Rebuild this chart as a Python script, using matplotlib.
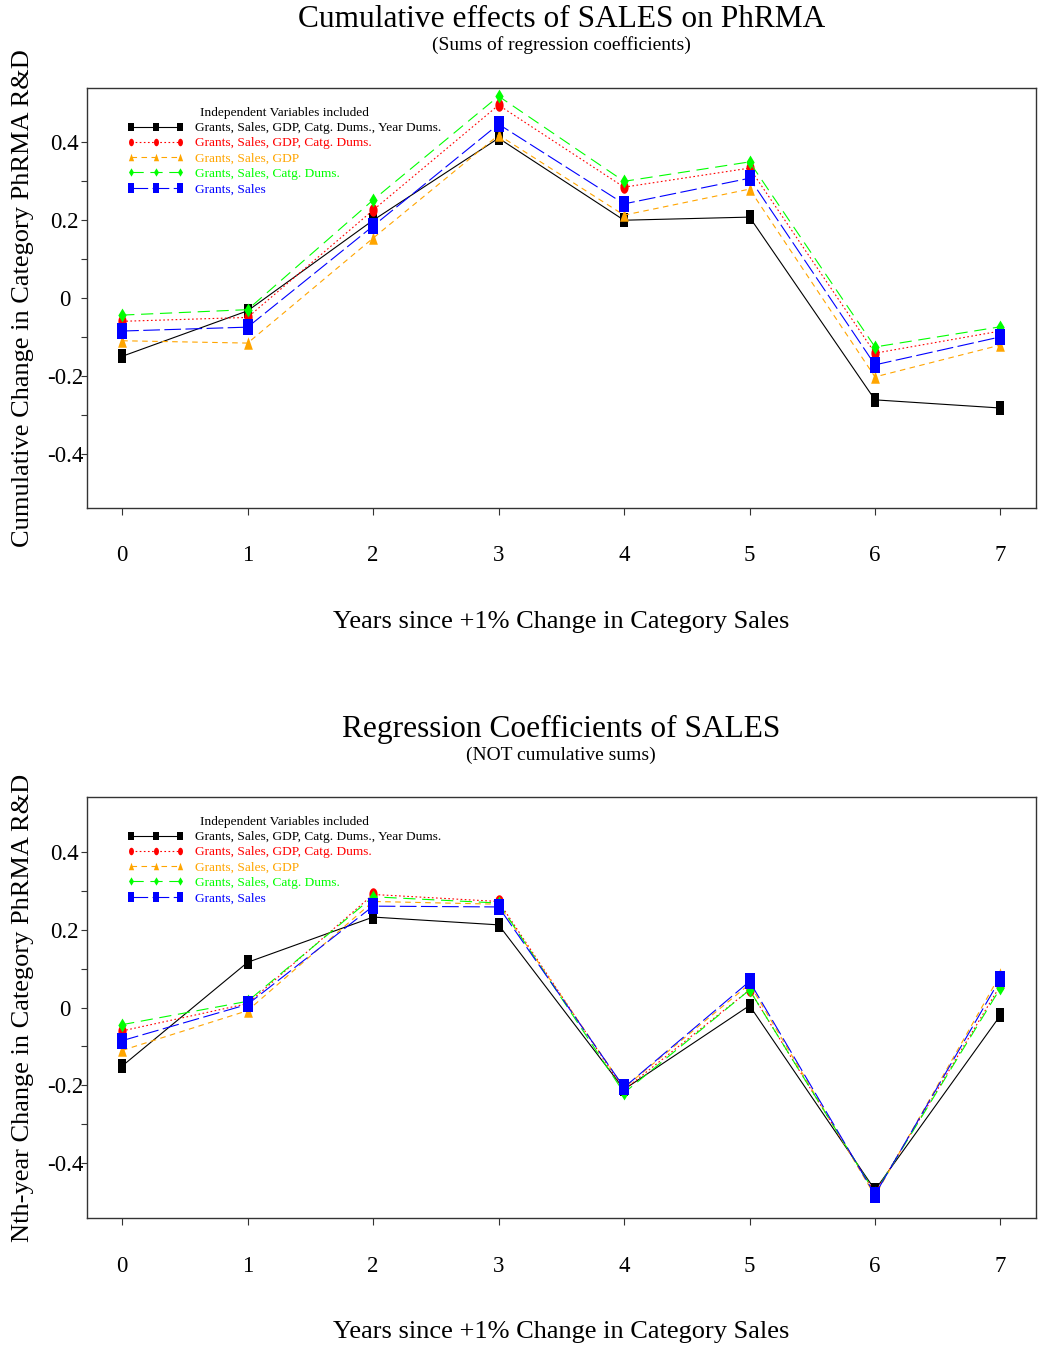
import numpy as np
import matplotlib
matplotlib.use("Agg")
import matplotlib.pyplot as plt

plt.rcParams["font.family"] = ["Liberation Serif", "DejaVu Serif"]

YEARS = [0, 1, 2, 3, 4, 5, 6, 7]

LABELS = [
    "Grants, Sales, GDP, Catg. Dums., Year Dums.",
    "Grants, Sales, GDP, Catg. Dums.",
    "Grants, Sales, GDP",
    "Grants, Sales, Catg. Dums.",
    "Grants, Sales",
]

# cumulative sums (top panel)
CUM_ALL = [-0.150, -0.033, 0.200, 0.411, 0.200, 0.208, -0.262, -0.283]
CUM_NO_YEAR = [-0.060, -0.050, 0.226, 0.496, 0.285, 0.334, -0.142, -0.085]
CUM_GDP = [-0.110, -0.116, 0.154, 0.419, 0.213, 0.280, -0.203, -0.121]
CUM_CATG = [-0.044, -0.030, 0.252, 0.519, 0.300, 0.350, -0.126, -0.074]
CUM_SALES = [-0.085, -0.075, 0.185, 0.447, 0.242, 0.308, -0.172, -0.100]

# yearly coefficients (bottom panel)
COEF_ALL = [-0.150, 0.116, 0.232, 0.212, -0.210, 0.005, -0.468, -0.020]
COEF_NO_YEAR = [-0.060, 0.010, 0.290, 0.272, -0.211, 0.045, -0.476, 0.057]
COEF_GDP = [-0.110, -0.008, 0.272, 0.265, -0.206, 0.060, -0.483, 0.085]
COEF_CATG = [-0.044, 0.016, 0.284, 0.268, -0.219, 0.045, -0.476, 0.050]
COEF_SALES = [-0.085, 0.008, 0.260, 0.258, -0.205, 0.067, -0.480, 0.074]

COLORS = ["black", "#ff0000", "#ffa500", "#00ff00", "#0000ff"]
STYLES = ["-", (0, (1.5, 2.2)), (0, (5, 4)), (0, (11, 6)), (0, (15, 4))]


def rect(w):
    return [(-w, -0.5), (w, -0.5), (w, 0.5), (-w, 0.5), (-w, -0.5)]


t = np.linspace(0, 2 * np.pi, 30)
ELLIPSE = list(zip(0.33 * np.cos(t), 0.5 * np.sin(t)))
DIAMOND = [(0, 0.5), (0.3, 0), (0, -0.5), (-0.3, 0), (0, 0.5)]
TRIANGLE = [(0, 0.5), (0.35, -0.5), (-0.35, -0.5), (0, 0.5)]
MARKERS = [rect(0.32), ELLIPSE, TRIANGLE, DIAMOND, rect(0.32)]
MSIZES = [10, 9, 9, 10, 11]


def panel(ax, series, ylabel):
    for vals, lab, c, ls, m, ms in zip(series, LABELS, COLORS, STYLES, MARKERS, MSIZES):
        ax.plot(YEARS, vals, color=c, linestyle=ls, linewidth=0.8,
                marker=m, markersize=ms, markeredgewidth=0, label=lab)
    ax.set_xlim(-0.28, 7.28)
    ax.set_ylim(-0.54, 0.54)
    ax.set_xticks(YEARS)
    ax.set_yticks(np.arange(-0.4, 0.41, 0.1))
    ax.set_yticklabels(["-0.4", "", "-0.2", "", "0", "", "0.2", "", "0.4"])
    for lab in ax.get_yticklabels():
        lab.set_horizontalalignment("center")
    ax.tick_params(axis="y", direction="out", length=4, width=0.8,
                   pad=12, labelsize=16.5, color="#333333")
    ax.tick_params(axis="x", direction="out", length=5, width=0.8,
                   pad=22, labelsize=16.5, color="#333333")
    for s in ax.spines.values():
        s.set_color("#333333")
        s.set_linewidth(1.0)
    ax.set_ylabel(ylabel, fontsize=19)
    ax.yaxis.set_label_coords(-0.056, 0.5)
    ax.set_xlabel("Years since +1% Change in Category Sales", fontsize=19)
    ax.xaxis.set_label_coords(0.5, -0.245)
    leg = ax.legend(loc="upper left", bbox_to_anchor=(0.042, 0.955),
                    frameon=False, fontsize=9.6, title="Independent Variables included",
                    title_fontsize=9.6, numpoints=3, handlelength=4.3, markerscale=0.6,
                    labelspacing=0.22, borderpad=0, borderaxespad=0, handletextpad=0.8,
                    labelcolor="linecolor")
    return leg


fig = plt.figure(figsize=(10.45, 13.52), dpi=100)
ax1 = fig.add_axes([0.0833, 0.6243, 0.9077, 0.3106])
ax2 = fig.add_axes([0.0833, 0.0991, 0.9077, 0.3114])

panel(ax1, [CUM_ALL, CUM_NO_YEAR, CUM_GDP, CUM_CATG, CUM_SALES],
      "Cumulative Change in Category PhRMA R&D")
panel(ax2, [COEF_ALL, COEF_NO_YEAR, COEF_GDP, COEF_CATG, COEF_SALES],
      "Nth-year Change in Category PhRMA R&D")

cx = 0.0833 + 0.9077 / 2
fig.text(cx, 0.9855, "Cumulative effects of SALES on PhRMA", ha="center", va="center", fontsize=22.6)
fig.text(cx, 0.9665, "(Sums of regression coefficients)", ha="center", va="center", fontsize=14)
fig.text(cx, 0.4605, "Regression Coefficients of SALES", ha="center", va="center", fontsize=22.6)
fig.text(cx, 0.4414, "(NOT cumulative sums)", ha="center", va="center", fontsize=14)

fig.savefig("out.png", dpi=100)
